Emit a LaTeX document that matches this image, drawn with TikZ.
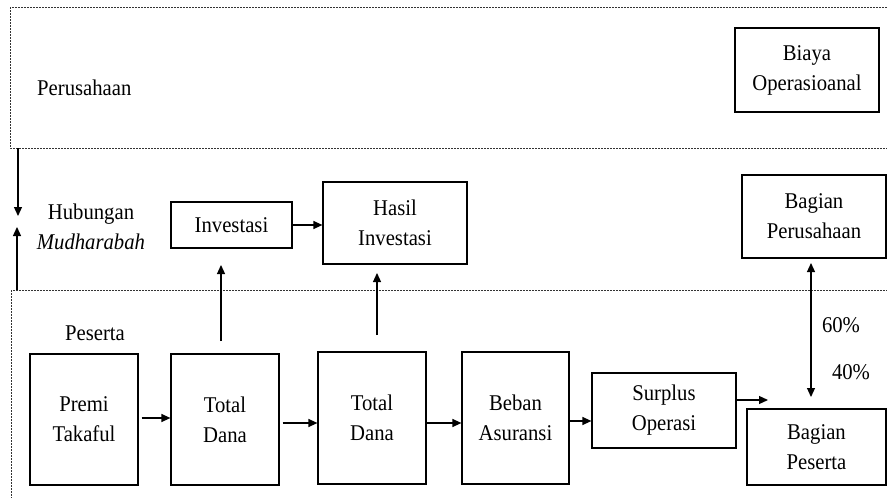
\documentclass[tikz,border=0pt]{standalone}
\usepackage{fontspec}
\setmainfont{Liberation Serif}[FakeStretch=0.92]
\usetikzlibrary{arrows.meta}
\begin{document}
\begin{tikzpicture}[x=1pt,y=-1pt,
  txt/.style={inner sep=0pt, align=center, font=\fontsize{22.5}{30}\selectfont},
  box/.style={txt, draw, line width=1.2pt},
  zone/.style={draw=black!80, line width=1pt, dash pattern=on 2pt off 1pt},
  arr/.style={-{Triangle[length=9pt,width=8pt]}, line width=1.2pt},
  darr/.style={{Triangle[length=9pt,width=8pt]}-{Triangle[length=9pt,width=8pt]}, line width=1.2pt}]
\useasboundingbox (0,0) rectangle (887,498);
\clip (0,0) rectangle (887,498);
% zones
\draw[zone] (10,7) rectangle (900,148);
\draw[zone] (11,290) rectangle (900,510);
% labels
\node[txt, anchor=west] (perus) at (37,88) {Perusahaan};
\node[txt] (hub) at (91,227) {Hubungan\\\textit{Mudharabah}};
\node[txt] (peserta) at (95,333) {Peserta};
\node[txt] (p60) at (841,325) {60\%};
\node[txt] (p40) at (851,372) {40\%};
% boxes
\node[box, minimum width=144pt, minimum height=84pt] (biaya) at (807,70) {Biaya\\Operasioanal};
\node[box, minimum width=121pt, minimum height=46pt] (inv) at (231.5,225) {Investasi};
\node[box, minimum width=144pt, minimum height=82pt] (hasil) at (395,223) {Hasil\\Investasi};
\node[box, minimum width=144pt, minimum height=83pt] (bperus) at (814,216.5) {Bagian\\Perusahaan};
\node[box, minimum width=108pt, minimum height=131pt] (premi) at (84,419.5) {Premi\\Takaful};
\node[box, minimum width=108pt, minimum height=131pt] (td1) at (225,419.5) {Total\\Dana};
\node[box, minimum width=108pt, minimum height=132pt] (td2) at (372,418) {Total\\Dana};
\node[box, minimum width=107pt, minimum height=132pt] (beban) at (515.5,418) {Beban\\Asuransi};
\node[box, minimum width=144pt, minimum height=75pt] (surplus) at (664,410.5) {Surplus\\Operasi};
\node[box, minimum width=139pt, minimum height=76pt] (bpes) at (816.5,447) {Bagian\\Peserta};
% coordinates for free ends
\coordinate (dtop) at (18,148);
\coordinate (dtip) at (18,216);
\coordinate (ubot) at (17,290);
\coordinate (utip) at (17,227);
\coordinate (u1bot) at (221,341);
\coordinate (u1tip) at (221,265);
\coordinate (u2bot) at (377,335);
\coordinate (u2tip) at (377,273);
\coordinate (dtopr) at (811,263);
\coordinate (dbotr) at (811,397);
\coordinate (sfree) at (768,400);
% connectors
\draw[arr] (dtop) -- (dtip);
\draw[arr] (ubot) -- (utip);
\draw[arr] (inv.east) -- (inv.east -| hasil.west);
\draw[arr] (u1bot) -- (u1tip);
\draw[arr] (u2bot) -- (u2tip);
\draw[darr] (dtopr) -- (dbotr);
\draw[arr, shorten <=3pt] (premi.east |- 0,418) -- (td1.west |- 0,418);
\draw[arr, shorten <=3pt] (td1.east |- 0,423) -- (td2.west |- 0,423);
\draw[arr] (td2.east |- 0,423) -- (beban.west |- 0,423);
\draw[arr] (beban.east |- 0,421) -- (surplus.west |- 0,421);
\draw[arr] (surplus.east |- 0,400) -- (sfree);
\end{tikzpicture}
\end{document}
